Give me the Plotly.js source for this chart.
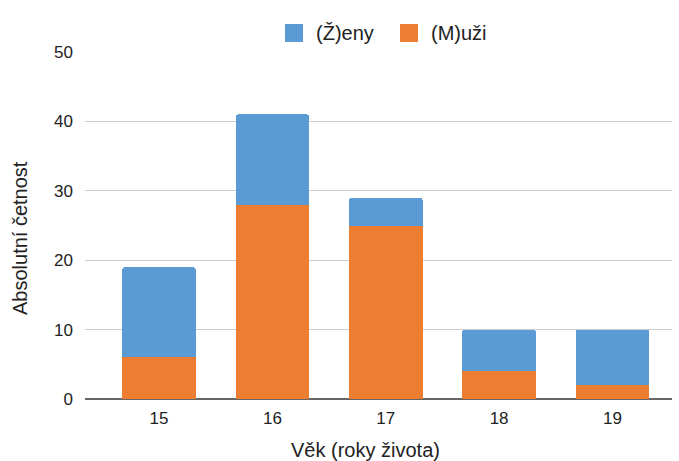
<!DOCTYPE html>
<html>
<head>
<meta charset="utf-8">
<script src="https://cdn.plot.ly/plotly-3.0.1.min.js"></script>
<style>
  html, body { margin: 0; padding: 0; background: #fff; }
  #chart { width: 679px; height: 461px; }
</style>
</head>
<body>
<div id="chart"></div>
<script>
// Age groups and counts of respondents by sex
const ages = ['15', '16', '17', '18', '19'];
const muzi = [6, 28, 25, 4, 2];
const zeny = [13, 13, 4, 6, 8];
const seriesNames = ['(Ž)eny', '(M)uži'];
const seriesColors = ['#5B9BD5', '#ED7D31'];

const FONT = 'Arial, "Liberation Sans", sans-serif';
const TEXT = '#222222';

// plot-area geometry in pixels (used to place the legend keys and titles)
const M = { l: 85, r: 7, t: 52, b: 62 };
const W = 679, H = 461;
const PW = W - M.l - M.r, PH = H - M.t - M.b;
const px = x => (x - M.l) / PW;
const py = y => (H - M.b - y) / PH;

// men at the bottom of each stack, women on top
const data = [
  {
    type: 'bar', name: seriesNames[1], x: ages, y: muzi,
    marker: { color: seriesColors[1] }, width: 0.65, showlegend: false
  },
  {
    type: 'bar', name: seriesNames[0], x: ages, y: zeny,
    marker: { color: seriesColors[0] }, width: 0.65, showlegend: false
  }
];

// legend keys: square swatch + label, laid out in a centred row above the plot
const keyX = [285, 400];
const shapes = keyX.map((x, i) => ({
  type: 'rect', xref: 'paper', yref: 'paper',
  x0: px(x), x1: px(x + 18), y0: py(42), y1: py(24),
  fillcolor: seriesColors[i], line: { width: 0 }
}));
const legendLabels = keyX.map((x, i) => ({
  text: seriesNames[i], xref: 'paper', yref: 'paper',
  x: px(x + 29), xanchor: 'left', y: py(33), yanchor: 'middle',
  showarrow: false, font: { family: FONT, size: 20, color: TEXT }
}));

const layout = {
  width: W,
  height: H,
  margin: M,
  paper_bgcolor: '#ffffff',
  plot_bgcolor: '#ffffff',
  font: { family: FONT, size: 17, color: TEXT },
  barmode: 'stack',
  barcornerradius: 3,
  showlegend: false,
  xaxis: {
    type: 'category',
    range: [-0.653, 4.525],
    showgrid: false,
    zeroline: false,
    showline: false,
    ticks: '',
    ticklabelstandoff: 7,
    tickfont: { family: FONT, size: 17, color: TEXT },
    fixedrange: true
  },
  yaxis: {
    range: [0, 50],
    dtick: 10,
    tick0: 0,
    showgrid: true,
    gridcolor: '#cccccc',
    gridwidth: 1,
    zeroline: true,
    zerolinecolor: '#666666',
    zerolinewidth: 2,
    showline: false,
    ticks: '',
    ticklabelstandoff: 11,
    tickfont: { family: FONT, size: 17, color: TEXT },
    fixedrange: true
  },
  shapes: shapes,
  annotations: legendLabels.concat([
    {
      text: 'Věk (roky života)',
      xref: 'paper', yref: 'paper',
      x: px(365), y: py(450),
      xanchor: 'center', yanchor: 'middle',
      showarrow: false,
      font: { family: FONT, size: 20, color: TEXT }
    },
    {
      text: 'Absolutní četnost',
      xref: 'paper', yref: 'paper',
      x: px(20), xanchor: 'center',
      y: py(238), yanchor: 'middle',
      textangle: -90,
      showarrow: false,
      font: { family: FONT, size: 20, color: TEXT }
    }
  ])
};

Plotly.newPlot('chart', data, layout, { displayModeBar: false, staticPlot: true });
</script>
</body>
</html>
